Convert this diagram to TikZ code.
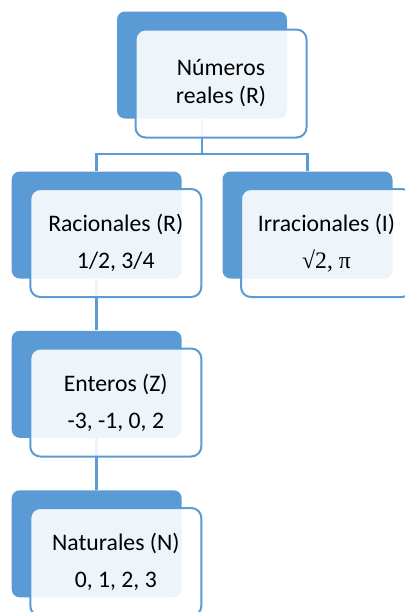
\documentclass[tikz,border=0pt]{standalone}
\usepackage{fontspec}
\setmainfont{Carlito}
\newfontfamily\symfont{Liberation Serif}
\definecolor{accent}{HTML}{5B9BD5}
\begin{document}
\begin{tikzpicture}[x=0.5pt,y=-0.5pt,
  backbox/.style={fill=accent, rounded corners=4pt, minimum width=85pt, minimum height=53.5pt, inner sep=0pt, draw=none},
  frontbox/.style={fill=white, fill opacity=0.9, text opacity=1, draw=accent, line width=1pt, rounded corners=5pt, minimum width=85.5pt, minimum height=54pt, inner sep=0pt, align=center, font=\fontsize{11.85}{18.5}\selectfont},
  conn/.style={draw=accent, line width=1.3pt}]
\useasboundingbox (0,0) rectangle (405,612);
% back boxes
\node[backbox] (topb) at (202,65) {};
\node[backbox] (racb) at (96.7,225) {};
\node[backbox] (irrb) at (307.5,225) {};
\node[backbox] (entb) at (96.7,384.3) {};
\node[backbox] (natb) at (96.7,543.8) {};
% connectors
\coordinate (bus) at (202,154);
\draw[conn] (topb.south) -- (bus);
\draw[conn] (racb.north) |- (bus) -| (irrb.north);
\draw[conn] (racb.south) -- (entb.north);
\draw[conn] (entb.south) -- (natb.north);
% front boxes
\node[frontbox, font=\fontsize{11.85}{14}\selectfont] (topf) at (221,83.5) {Números\\reales (R)};
\node[frontbox] (racf) at (115.8,243) {Racionales (R)\\1/2, 3/4};
\node[frontbox] (irrf) at (326.5,243) {Irracionales (I)\\{\symfont √2, π}};
\node[frontbox] (entf) at (115.8,402.5) {Enteros (Z)\\-3, -1, 0, 2};
\node[frontbox] (natf) at (115.8,562) {Naturales (N)\\0, 1, 2, 3};
\end{tikzpicture}
\end{document}
